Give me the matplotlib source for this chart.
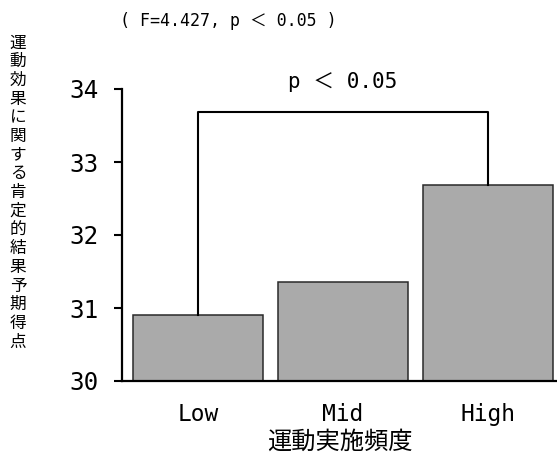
import matplotlib.pyplot as plt
import numpy as np

# mean scores per exercise-frequency group
groups = ["Low", "Mid", "High"]
scores = [30.91, 31.35, 32.68]
bracket_top = 33.69
title_text = "( F=4.427, p ＜ 0.05 )"
sig_text = "p ＜ 0.05"
ylabel = "運動効果に関する肯定的結果予期得点"
xlabel = "運動実施頻度"

latin = ["DejaVu Sans Mono", "Noto Sans CJK JP"]
jp = ["Noto Sans CJK JP", "DejaVu Sans"]

fig = plt.figure(figsize=(5.57, 4.67), dpi=100)
ax = fig.add_axes([122 / 557, 86 / 467, 435 / 557, 292 / 467])

x = np.arange(len(groups))
ax.bar(x, np.array(scores) - 30, bottom=30, width=0.89,
       color="#aaaaaa", edgecolor="#2a2a2a", linewidth=1.1, zorder=2)

ax.set_ylim(30, 34)
ax.set_xlim(-0.524, 2.476)
ax.set_yticks([30, 31, 32, 33, 34])
ax.set_xticks(x)
ax.set_xticklabels(groups)

for s in ["top", "right"]:
    ax.spines[s].set_visible(False)
ax.spines["left"].set_linewidth(1.6)
ax.spines["bottom"].set_linewidth(1.6)
ax.tick_params(axis="y", length=6, width=1.5, pad=11, labelsize=17.5)
ax.tick_params(axis="x", length=0, pad=16, labelsize=16.5)
for lab in ax.get_xticklabels() + ax.get_yticklabels():
    lab.set_family(latin)

# significance bracket Low vs High
ax.plot([x[0], x[0], x[2], x[2]],
        [scores[0], bracket_top, bracket_top, scores[2]],
        color="black", linewidth=1.5, clip_on=False, zorder=3)
ax.text((x[0] + x[2]) / 2, bracket_top + 0.4, sig_text, ha="center",
        va="center", fontsize=15, family=latin)

fig.text(228 / 557, 1 - 21 / 467, title_text, ha="center", va="center",
         fontsize=12, family=latin)

# y label: one character per row, stacked top to bottom
top_px, step = 43, 18.7
for i, ch in enumerate(ylabel):
    fig.text(18 / 557, 1 - (top_px + i * step) / 467, ch, ha="center",
             va="center", fontsize=12, family=jp)

fig.text(340 / 557, 1 - 442 / 467, xlabel, ha="center", va="center",
         fontsize=17.5, family=jp)

fig.savefig("out.png", dpi=100)
